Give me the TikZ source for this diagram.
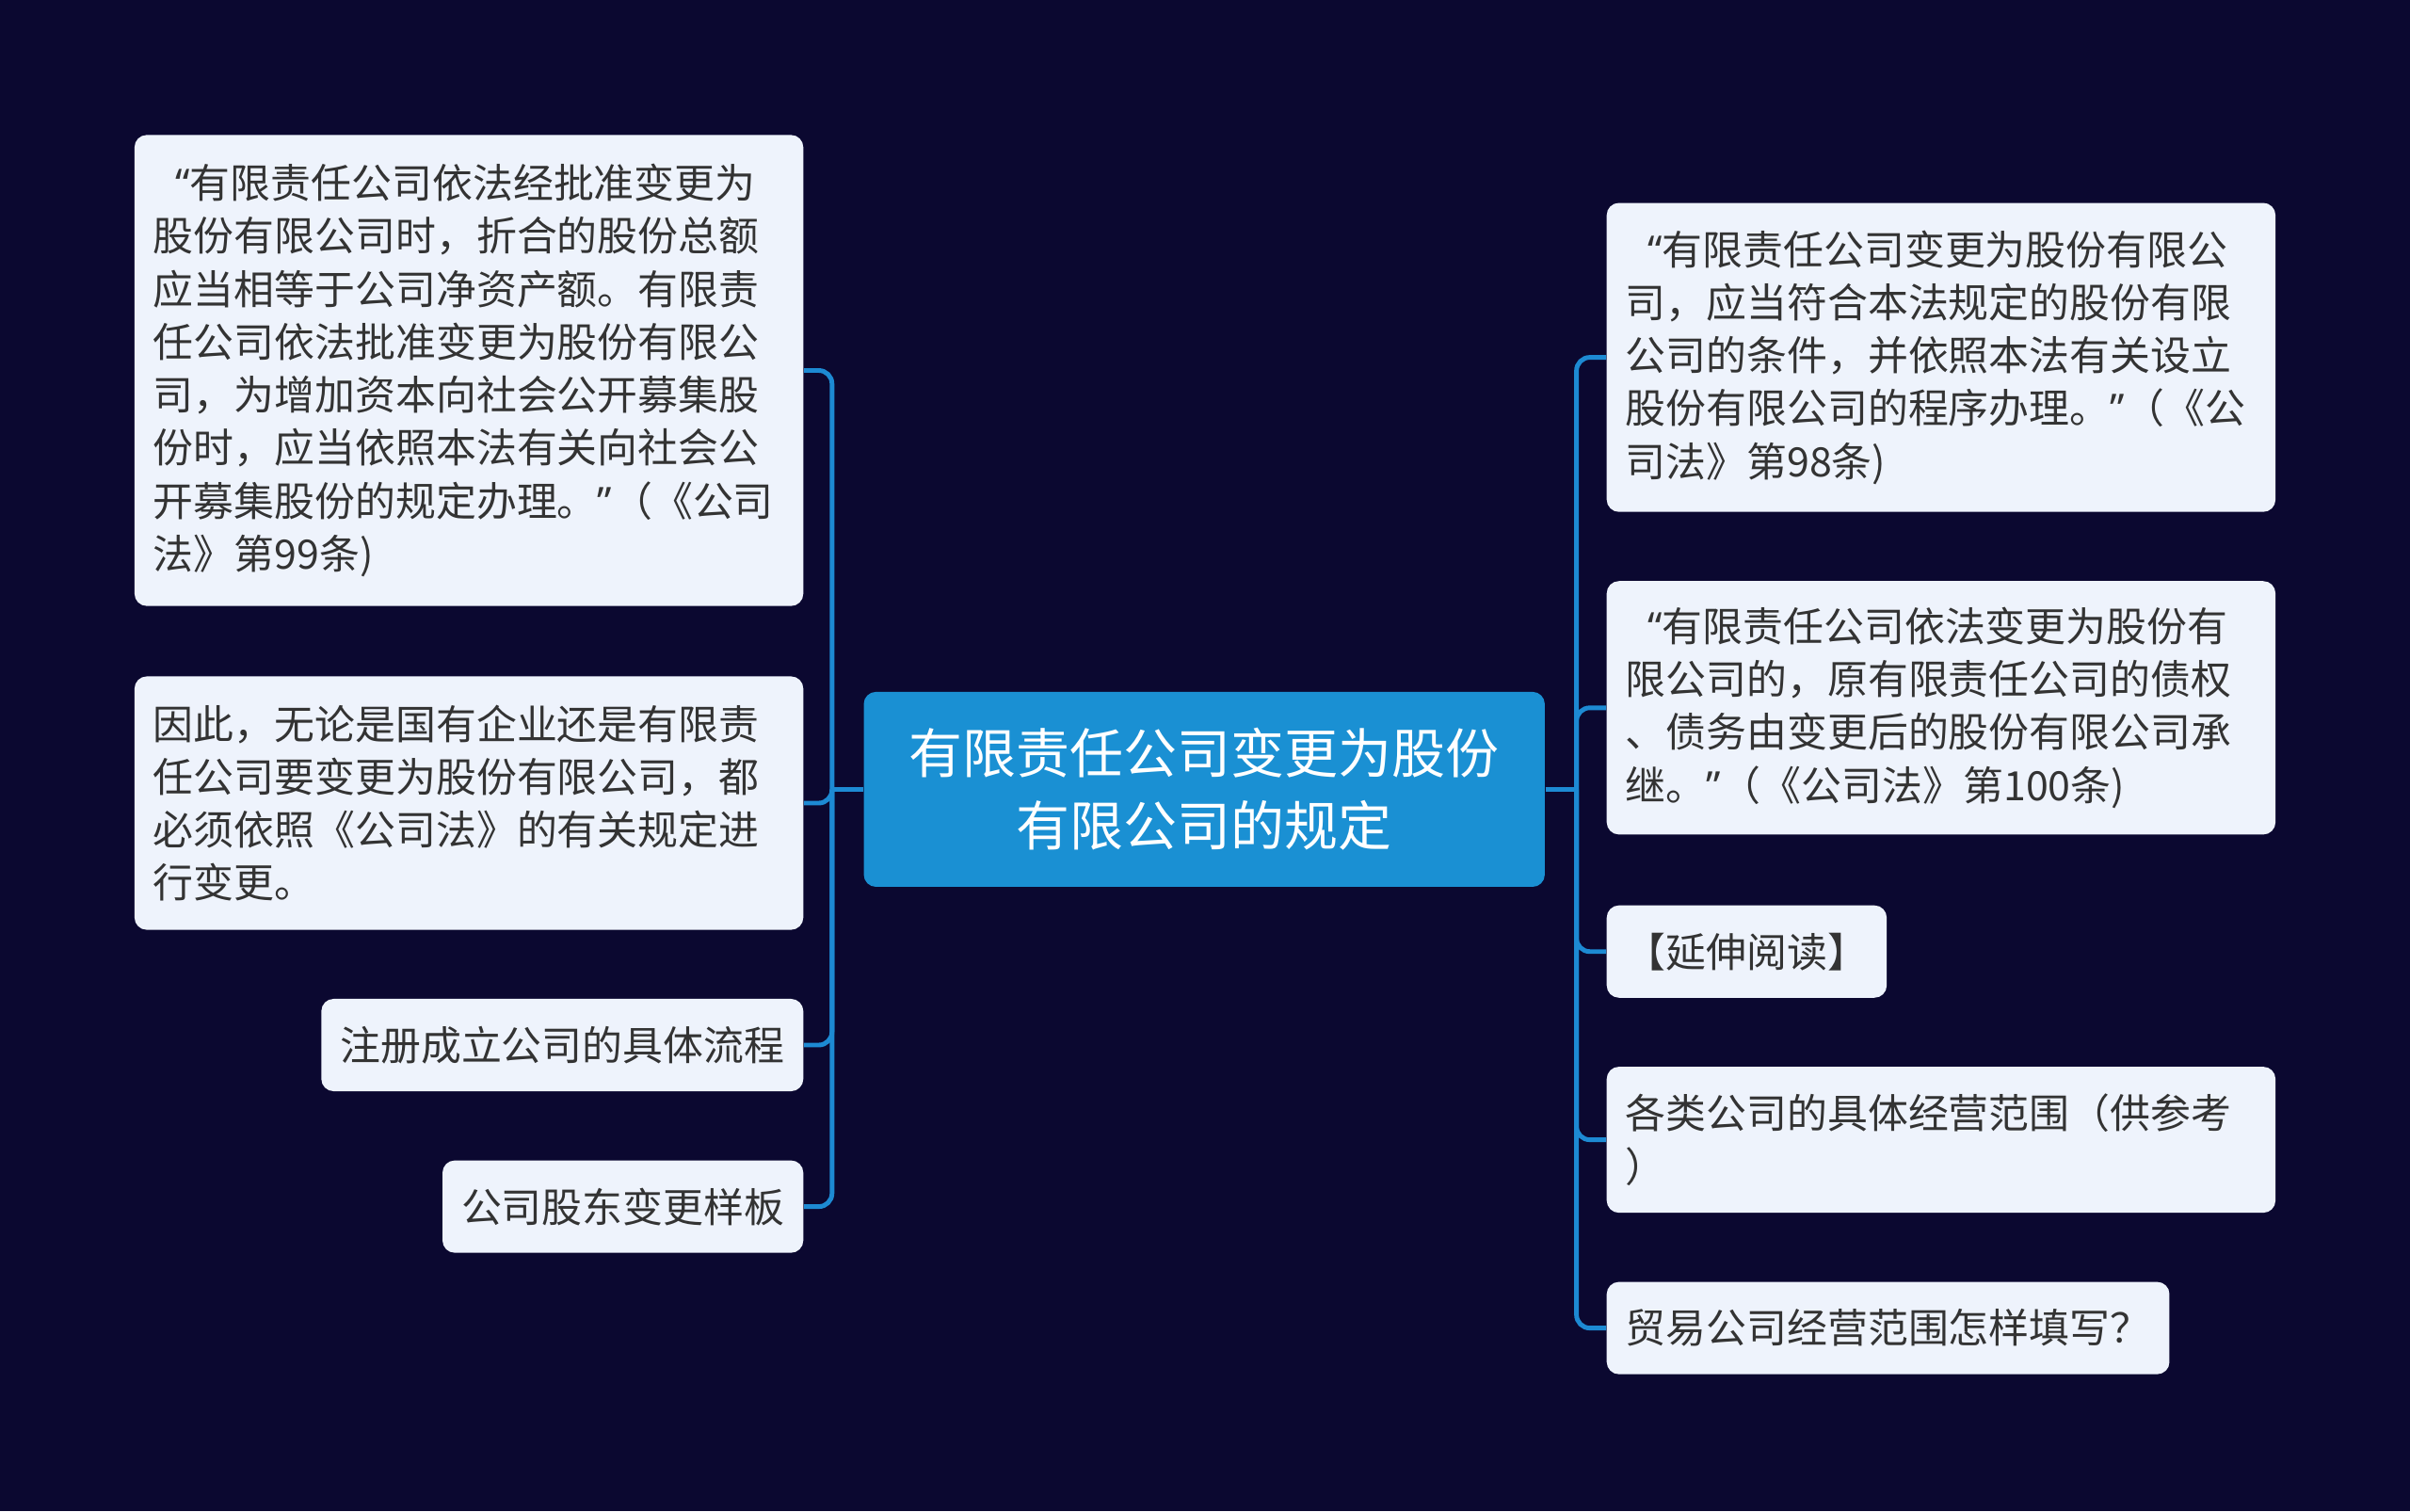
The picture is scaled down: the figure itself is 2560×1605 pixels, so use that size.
\documentclass[tikz,border=0pt]{standalone}
\usepackage{fontspec}
\setmainfont{Noto Sans CJK SC}
\newfontfamily\quotefont{Noto Sans}
\newcommand{\openq}{\hspace{0.55em}{\quotefont “}}
\newcommand{\closeq}{{\quotefont ”}}

\definecolor{bgcol}{HTML}{0B0830}
\definecolor{leafcol}{HTML}{EEF3FC}
\definecolor{rootcol}{HTML}{1A90D3}
\definecolor{linkcol}{HTML}{1D8AD3}
\definecolor{txtcol}{HTML}{333333}

\begin{document}
\begin{tikzpicture}[x=0.01cm, y=-0.01cm,
  leaf/.style={fill=leafcol, rounded corners=0.13cm, text=txtcol, inner xsep=0.2cm, inner ysep=0cm,
    font={\fontsize{12.2pt}{16pt}\selectfont}, align=left, minimum height=0.98cm},
  wide/.style={leaf, text width=6.7cm},
  root/.style={fill=rootcol, rounded corners=0.13cm, text=white, minimum width=7.23cm, minimum height=2.07cm,
    font={\fontsize{16.2pt}{22pt}\selectfont}, align=center},
  link/.style={draw=linkcol, line width=1.4pt, rounded corners=4pt}]

% background
\fill[bgcol] (0,0) rectangle (2560,1605);

% centre
\node[root] (root) at (1279.2,838.4) {有限责任公司变更为股份\\有限公司的规定};

% left side
\node[wide, minimum height=5cm, anchor=east] (l1) at (854,393.5) {\openq 有限责任公司依法经批准变更为\\股份有限公司时，折合的股份总额\\应当相等于公司净资产额。有限责\\任公司依法批准变更为股份有限公\\司，为增加资本向社会公开募集股\\份时，应当依照本法有关向社会公\\开募集股份的规定办理。\closeq（《公司\\法》第99条)};
\node[wide, minimum height=2.69cm, anchor=east] (l2) at (854,853) {因此，无论是国有企业还是有限责\\任公司要变更为股份有限公司，都\\必须依照《公司法》的有关规定进\\行变更。};
\node[leaf, anchor=east] (l3) at (854,1110) {注册成立公司的具体流程};
\node[leaf, anchor=east] (l4) at (854,1281.6) {公司股东变更样板};

% right side
\node[wide, minimum height=3.28cm, anchor=west] (r1) at (1706,379.6) {\openq 有限责任公司变更为股份有限公\\司，应当符合本法规定的股份有限\\公司的条件，并依照本法有关设立\\股份有限公司的程序办理。\closeq（《公\\司法》第98条)};
\node[wide, minimum height=2.69cm, anchor=west] (r2) at (1706,751.8) {\openq 有限责任公司依法变更为股份有\\限公司的，原有限责任公司的债权\\、债务由变更后的股份有限公司承\\继。\closeq（《公司法》第100条)};
\node[leaf, anchor=west] (r3) at (1706,1010.7) {【延伸阅读】};
\node[wide, minimum height=1.55cm, anchor=west] (r4) at (1706,1210.6) {各类公司的具体经营范围（供参考\\）};
\node[leaf, anchor=west] (r5) at (1706,1410.6) {贸易公司经营范围怎样填写？};

% links
\draw[link] (root.west) -- ++(-33,0) coordinate (lhub);
\draw[link] (root.east) -- ++(33,0) coordinate (rhub);
\foreach \n in {l1,l2,l3,l4}
  \draw[link] (lhub) |- (\n.east);
\foreach \n in {r1,r2,r3,r4,r5}
  \draw[link] (rhub) |- (\n.west);

\end{tikzpicture}
\end{document}
